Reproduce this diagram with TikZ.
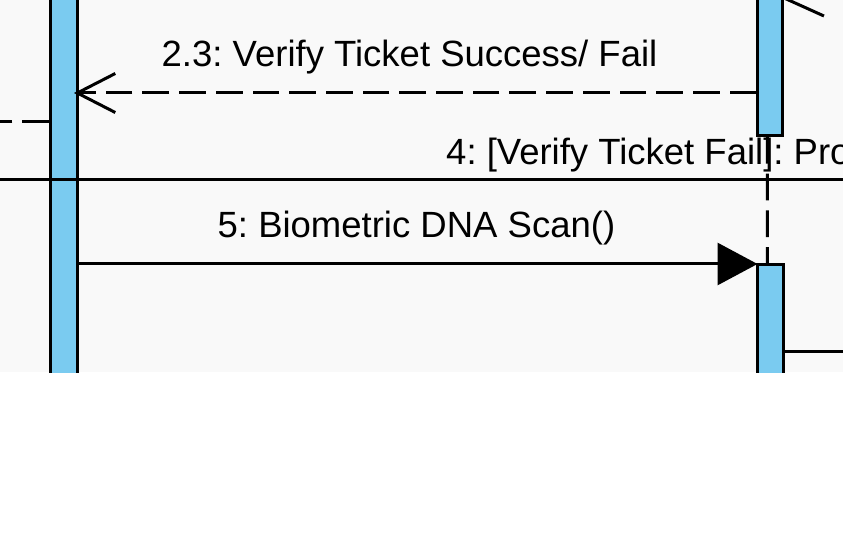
\documentclass[tikz,border=0pt]{standalone}
\usepackage{fontspec}
\setmainfont{Liberation Sans}
\usetikzlibrary{arrows.meta}
\definecolor{barblue}{RGB}{122,203,240}
\definecolor{bggray}{RGB}{249,249,249}
\frenchspacing
\begin{document}
\begin{tikzpicture}[x=1pt,y=-1pt,
  bar/.style={draw=black, fill=barblue, line width=3pt, inner sep=0pt, anchor=north west},
  msgline/.style={draw=black, line width=3pt},
  replyline/.style={msgline, dash pattern=on 26.7pt off 10pt},
  lifeline/.style={msgline, dash pattern=on 26.7pt off 10pt},
  opentip/.style={-{Straight Barb[length=38pt,width=39pt]}},
  filltip/.style={-{Triangle[length=40pt,width=42pt]}},
  lbl/.style={inner sep=0pt, anchor=base west, font=\fontsize{36.5}{44}\selectfont}
]
\useasboundingbox (0,0) rectangle (843,537);
\fill[white] (0,0) rectangle (843,537);
\fill[bggray] (0,0) rectangle (843,372);
\begin{scope}
\clip (0,0) rectangle (843,372);
% activation bars
\node[bar, minimum width=26.5pt, minimum height=440pt] (barL) at (49,-40) {};
\node[bar, minimum width=25pt, minimum height=194pt] (barR1) at (756.3,-60) {};
\node[bar, minimum width=25.5pt, minimum height=140pt] (barR2) at (756,263) {};
% lifeline between right bars
\draw[lifeline] ([xshift=-3pt]barR1.south) -- ([xshift=-3pt]barR2.north);
% free ends
\coordinate (leftout) at (-40,122);
\coordinate (l4) at (-20,179.5);
\coordinate (r4) at (880,179.5);
\coordinate (r6) at (880,351);
\coordinate (rtop) at (880,-1.6);
% connectors
\draw[replyline] (barL.west |- leftout) -- (leftout);
\draw[msgline, -{Straight Barb[length=39pt,width=35.2pt]}, shorten >=-3pt] (rtop) -- (barR1.east |- rtop);
\coordinate (y23) at (0,93);
\draw[replyline, opentip, shorten >=-4.5pt] (barR1.west |- y23) -- (barL.east |- y23);
\draw[msgline] (l4) -- (r4);
\coordinate (y5) at (0,264);
\draw[msgline, filltip, shorten >=-1.5pt] (barL.east |- y5) -- (barR2.west |- y5);
\draw[msgline] (barR2.east |- r6) -- (r6);
% labels
\node[lbl] (t23) at (161.5,67) {2.3: Verify Ticket Success/ Fail};
\node[lbl] (t4) at (446,165) {4: [Verify Ticket Fail]: Pro};
\node[lbl] (t5) at (217.5,238) {5: Biometric DNA Scan()};
\end{scope}
\end{tikzpicture}
\end{document}
